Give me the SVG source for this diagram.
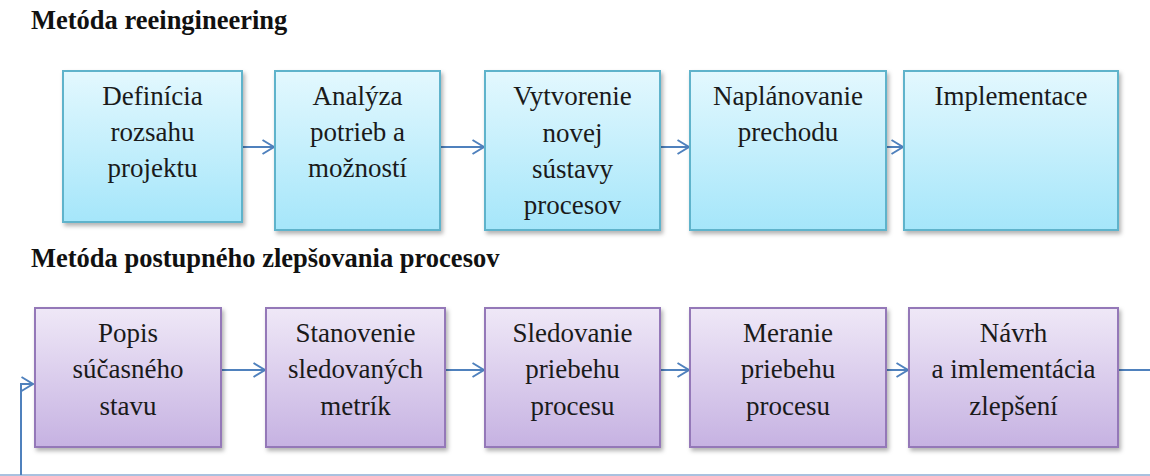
<svg xmlns="http://www.w3.org/2000/svg" width="1150" height="476" viewBox="0 0 1150 476">
<style>
.title{font-size:26.5px;font-weight:bold;fill:#111}
.lbl{font-size:27px;fill:#1a1a1a;text-anchor:middle}
.blue{fill:url(#gBlue);stroke:#5fb3cb;stroke-width:2;filter:url(#sh)}
.purple{fill:url(#gPurple);stroke:#9478b8;stroke-width:2;filter:url(#sh)}
.conn{fill:none;stroke:#4f81bd;stroke-width:2}
</style>
<defs>
<linearGradient id="gBlue" x1="0" y1="0" x2="0" y2="1">
<stop offset="0" stop-color="#e3f8fe"/>
<stop offset="1" stop-color="#a5e6fa"/>
</linearGradient>
<linearGradient id="gPurple" x1="0" y1="0" x2="0" y2="1">
<stop offset="0" stop-color="#efe8f7"/>
<stop offset="1" stop-color="#c6b2e2"/>
</linearGradient>
<filter id="sh" x="-10%" y="-10%" width="125%" height="125%">
<feDropShadow dx="2" dy="3" stdDeviation="2" flood-color="#000" flood-opacity="0.3"/>
</filter>
<marker id="arr" viewBox="0 0 14 16" refX="12.5" refY="8" markerWidth="14" markerHeight="16" markerUnits="userSpaceOnUse" orient="auto">
<path d="M1,1 L12.5,8 L1,15" fill="none" stroke="#4f81bd" stroke-width="2"/>
</marker>
</defs>
<rect width="1150" height="476" fill="#fff"/>
<g font-family="Liberation Serif, DejaVu Serif, serif">
<text class="title" x="31" y="29">Metóda reeingineering</text>
<text class="title" x="31" y="267">Metóda postupného zlepšovania procesov</text>
</g>

<g id="connectors">
<path class="conn" marker-end="url(#arr)" d="M242,147 H274"/>
<path class="conn" marker-end="url(#arr)" d="M440,147 H484"/>
<path class="conn" marker-end="url(#arr)" d="M660,147 H689"/>
<path class="conn" marker-end="url(#arr)" d="M886,147 H903"/>
<path class="conn" marker-end="url(#arr)" d="M221,370 H265"/>
<path class="conn" marker-end="url(#arr)" d="M445,370 H484"/>
<path class="conn" marker-end="url(#arr)" d="M660,370 H689"/>
<path class="conn" marker-end="url(#arr)" d="M886,370 H908"/>
<path d="M1118,370 H1150" fill="none" stroke="#4f81bd" stroke-width="2"/>
<path d="M0,475 H1150" fill="none" stroke="#a9c1df" stroke-width="2"/>
<path class="conn" marker-end="url(#arr)" d="M21,475 V384 H33"/>
</g>

<g font-family="Liberation Serif, DejaVu Serif, serif">
<g id="n1"><rect class="blue" x="63" y="71" width="179" height="151"/>
<text class="lbl" x="152.5" y="105">Definícia</text><text class="lbl" x="152.5" y="141">rozsahu</text><text class="lbl" x="152.5" y="177">projektu</text></g>
<g id="n2"><rect class="blue" x="275" y="71" width="165" height="159"/>
<text class="lbl" x="357.5" y="105">Analýza</text><text class="lbl" x="357.5" y="141">potrieb a</text><text class="lbl" x="357.5" y="177">možností</text></g>
<g id="n3"><rect class="blue" x="485" y="71" width="175" height="159"/>
<text class="lbl" x="572.5" y="105">Vytvorenie</text><text class="lbl" x="572.5" y="142">novej</text><text class="lbl" x="572.5" y="178">sústavy</text><text class="lbl" x="572.5" y="214">procesov</text></g>
<g id="n4"><rect class="blue" x="690" y="71" width="196" height="159"/>
<text class="lbl" x="788" y="105">Naplánovanie</text><text class="lbl" x="788" y="141">prechodu</text></g>
<g id="n5"><rect class="blue" x="904" y="71" width="214" height="159"/>
<text class="lbl" x="1011" y="105">Implementace</text></g>

<g id="m1"><rect class="purple" x="35" y="308" width="186" height="139"/>
<text class="lbl" x="128" y="342">Popis</text><text class="lbl" x="128" y="378">súčasného</text><text class="lbl" x="128" y="415">stavu</text></g>
<g id="m2"><rect class="purple" x="266" y="308" width="179" height="139"/>
<text class="lbl" x="355.5" y="342">Stanovenie</text><text class="lbl" x="355.5" y="378">sledovaných</text><text class="lbl" x="355.5" y="415">metrík</text></g>
<g id="m3"><rect class="purple" x="485" y="308" width="175" height="139"/>
<text class="lbl" x="572.5" y="342">Sledovanie</text><text class="lbl" x="572.5" y="378">priebehu</text><text class="lbl" x="572.5" y="415">procesu</text></g>
<g id="m4"><rect class="purple" x="690" y="308" width="196" height="139"/>
<text class="lbl" x="788" y="342">Meranie</text><text class="lbl" x="788" y="378">priebehu</text><text class="lbl" x="788" y="415">procesu</text></g>
<g id="m5"><rect class="purple" x="909" y="308" width="209" height="139"/>
<text class="lbl" x="1013.5" y="342">Návrh</text><text class="lbl" x="1013.5" y="378">a imlementácia</text><text class="lbl" x="1013.5" y="415">zlepšení</text></g>
</g>
</svg>
